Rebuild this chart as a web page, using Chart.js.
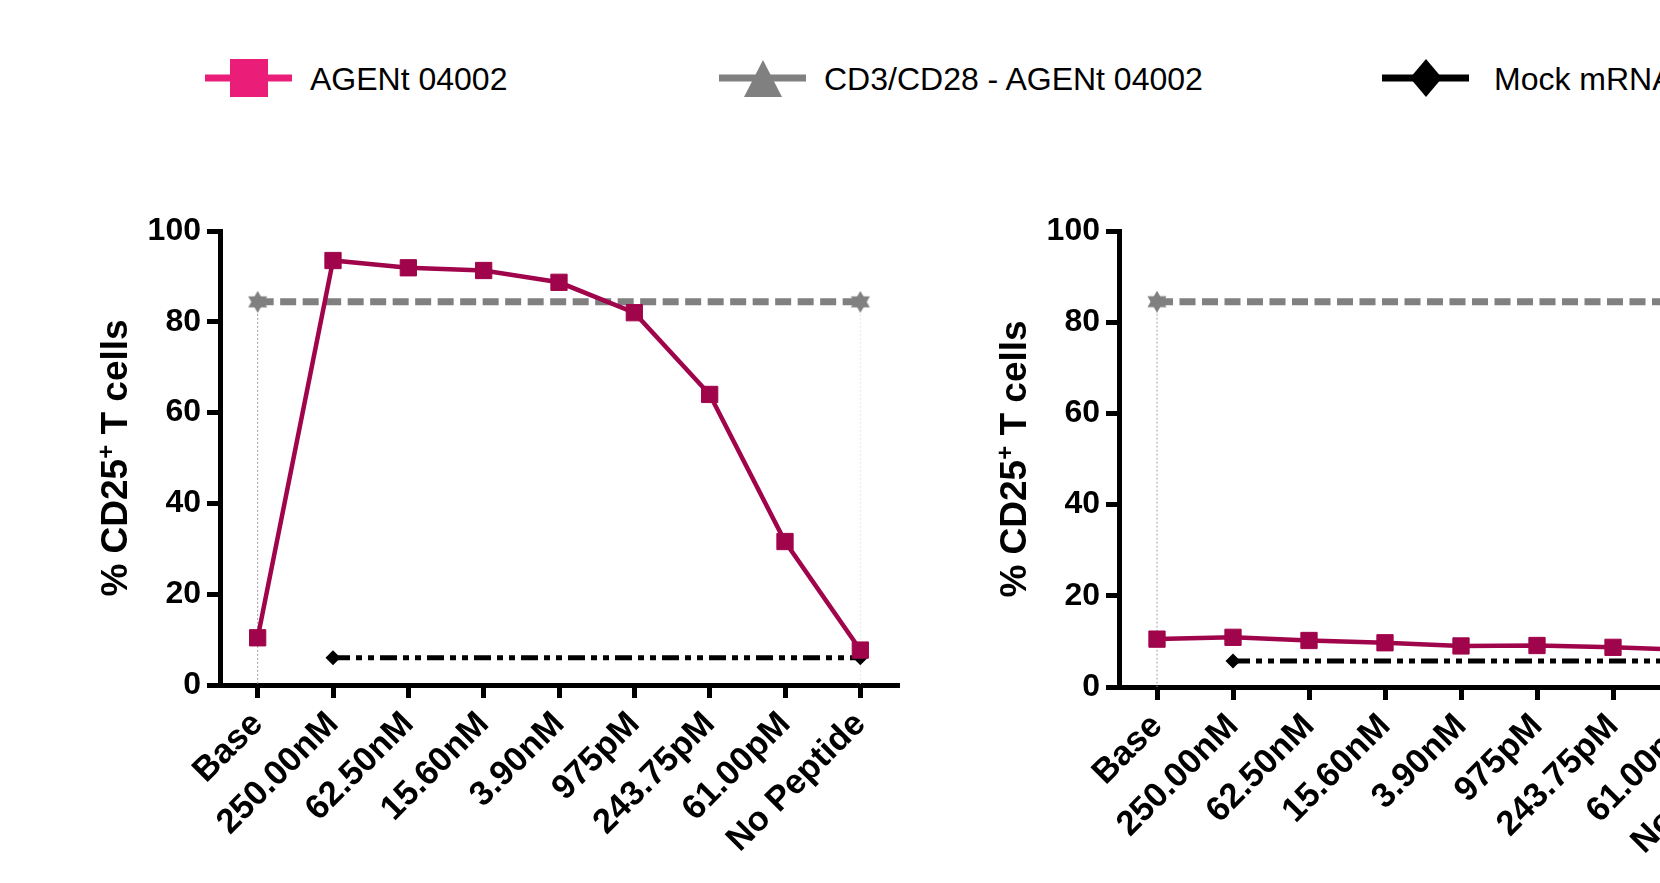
<!DOCTYPE html>
<html>
<head>
<meta charset="utf-8">
<script src="https://cdn.jsdelivr.net/npm/chart.js@4.4.1/dist/chart.umd.min.js"></script>
<style>
  html, body { margin: 0; padding: 0; background: #fff; overflow: hidden; }
  #wrap { position: relative; width: 1660px; height: 883px; overflow: hidden; }
  #wrap canvas { position: absolute; top: 0; }
  #legend { position: absolute; left: 0; top: 0; }
</style>
</head>
<body>
<div id="wrap">
  <svg id="legend" width="1660" height="130"></svg>
  <canvas id="left" width="900" height="883" style="left:0"></canvas>
  <canvas id="right" width="906" height="883" style="left:899px"></canvas>
</div>
<script>
// categories and values
const categories = ['Base', '250.00nM', '62.50nM', '15.60nM', '3.90nM', '975pM', '243.75pM', '61.00pM', 'No Peptide'];
const seriesNames = ['AGENt 04002', 'CD3/CD28 - AGENt 04002', 'Mock mRNA'];

const leftAgent = [10.4, 93.5, 91.9, 91.3, 88.7, 82.0, 64.0, 31.6, 7.7];
const leftCd3   = [84.4, null, null, null, null, null, null, null, 84.4];
const leftMock  = [null, 6.0, null, null, null, null, null, null, 6.0];

const rightAgent = [10.5, 10.9, 10.2, 9.7, 9.0, 9.1, 8.7, 8.1, 7.8];
const rightCd3   = [84.5, null, null, null, null, null, null, null, 84.5];
const rightMock  = [null, 5.7, null, null, null, null, null, null, 5.7];

const yMin = 0, yMax = 100, yStep = 20;

const FONT = '"Liberation Sans", Arial, Helvetica, sans-serif';
const lineColors = ['#a0044b', '#808080', '#000000'];
const legendColors = ['#ea1e79', '#808080', '#000000'];

// legend (svg, the figure is wider than the window)
const NS = 'http://www.w3.org/2000/svg';
const leg = document.getElementById('legend');
function el(tag, attrs) {
  const e = document.createElementNS(NS, tag);
  for (const k in attrs) e.setAttribute(k, attrs[k]);
  leg.appendChild(e);
  return e;
}
const legX = [205, 719, 1382];
const legTextX = [310, 824, 1494];
const legY = 78;
seriesNames.forEach((name, i) => {
  const x0 = legX[i], c = legendColors[i], mx = x0 + 44;
  el('rect', { x: x0, y: legY - 3.5, width: 87, height: 7, fill: c });
  if (i === 0) el('rect', { x: mx - 19, y: legY - 19, width: 38, height: 38, fill: c });
  if (i === 1) el('polygon', { points: `${mx},${legY - 18} ${mx + 19},${legY + 19} ${mx - 19},${legY + 19}`, fill: c });
  if (i === 2) el('polygon', { points: `${mx},${legY - 19} ${mx + 16},${legY} ${mx},${legY + 19} ${mx - 16},${legY}`, fill: c });
  const t = el('text', { x: legTextX[i], y: legY + 11.5, fill: '#000', 'font-family': FONT, 'font-size': 32 });
  t.textContent = name;
});

// six pointed star for the CD3/CD28 points
function starCanvas(size, color) {
  const c = document.createElement('canvas');
  c.width = c.height = size;
  const g = c.getContext('2d');
  g.fillStyle = color;
  const r = size / 2;
  for (const rot of [-Math.PI / 2, Math.PI / 2]) {
    g.beginPath();
    for (let i = 0; i < 3; i++) {
      const a = rot + i * 2 * Math.PI / 3;
      g.lineTo(r + r * Math.cos(a), r + r * Math.sin(a));
    }
    g.closePath();
    g.fill();
  }
  return c;
}
const star = starCanvas(22, lineColors[1]);

// thin dotted drop lines under the CD3/CD28 points
const dropLines = {
  id: 'dropLines',
  beforeDatasetsDraw(chart, args, opts) {
    const ds = chart.data.datasets[opts.dataset];
    const meta = chart.getDatasetMeta(opts.dataset);
    const y0 = chart.scales.y.getPixelForValue(yMin);
    const ctx = chart.ctx;
    let n = 0;
    meta.data.forEach((pt, i) => {
      if (ds.data[i] == null) return;
      ctx.save();
      ctx.strokeStyle = opts.colors[n++] || '#ccc';
      ctx.lineWidth = 1;
      ctx.setLineDash([2, 2]);
      ctx.beginPath();
      ctx.moveTo(pt.x, pt.y);
      ctx.lineTo(pt.x, y0);
      ctx.stroke();
      ctx.restore();
    });
  }
};

// y title with a superscript +
const yTitle = {
  id: 'yTitle',
  afterDraw(chart, args, opts) {
    const { ctx, chartArea } = chart;
    const big = `bold 37px ${FONT}`, small = `bold 24px ${FONT}`;
    const parts = [['% CD25', big, 0], ['+', small, -13], [' T cells', big, 0]];
    ctx.save();
    let w = 0;
    parts.forEach(p => { ctx.font = p[1]; w += ctx.measureText(p[0]).width; });
    ctx.translate(opts.x, (chartArea.top + chartArea.bottom) / 2);
    ctx.rotate(-Math.PI / 2);
    ctx.fillStyle = '#000';
    ctx.textBaseline = 'alphabetic';
    let x = -w / 2;
    parts.forEach(p => {
      ctx.font = p[1];
      ctx.fillText(p[0], x, p[2]);
      x += ctx.measureText(p[0]).width;
    });
    ctx.restore();
  }
};

function makeChart(id, agent, cd3, mock, plotBottom, drops) {
  const yFont = { family: FONT, size: 32, weight: 'bold' };
  const xFont = { family: FONT, size: 34.5, weight: 'bold' };
  return new Chart(document.getElementById(id), {
    type: 'line',
    data: {
      labels: categories,
      datasets: [
        {
          label: seriesNames[0], data: agent, order: 0,
          borderColor: lineColors[0], backgroundColor: lineColors[0], borderWidth: 4.5,
          pointStyle: 'rect', pointRadius: 11.5, pointBorderWidth: 1, tension: 0
        },
        {
          label: seriesNames[1], data: cd3, order: 1, spanGaps: true,
          borderColor: lineColors[1], backgroundColor: lineColors[1], borderWidth: 7,
          borderDash: [16, 6.5], pointStyle: star, pointRadius: 11
        },
        {
          label: seriesNames[2], data: mock, order: 2, spanGaps: true,
          borderColor: lineColors[2], backgroundColor: lineColors[2], borderWidth: 5,
          borderDash: [17, 6, 6, 6, 6, 6], pointStyle: 'rectRot', pointRadius: 7.5, pointBorderWidth: 0
        }
      ]
    },
    options: {
      responsive: false,
      animation: false,
      devicePixelRatio: 1,
      layout: { autoPadding: false, padding: { top: 231, right: 2, left: 0, bottom: 0 } },
      plugins: {
        legend: { display: false },
        tooltip: { enabled: false },
        dropLines: { dataset: 1, colors: drops },
        yTitle: { x: 127 }
      },
      scales: {
        x: {
          offset: true,
          grid: { drawOnChartArea: false, offset: false, color: '#000', lineWidth: 5, tickLength: 13 },
          border: { color: '#000', width: 5 },
          ticks: { font: xFont, color: '#000', minRotation: 45, maxRotation: 45, autoSkip: false, padding: 6 },
          afterFit(s) { s.height = 883 - plotBottom; s.paddingLeft = 0; s.paddingRight = 0; }
        },
        y: {
          min: yMin, max: yMax,
          grid: { drawOnChartArea: false, color: '#000', lineWidth: 5, tickLength: 13 },
          border: { color: '#000', width: 5 },
          ticks: { stepSize: yStep, font: yFont, color: '#000', padding: 6 },
          afterFit(s) { s.width = 220; s.paddingTop = 0; s.paddingBottom = 0; }
        }
      }
    },
    plugins: [dropLines, yTitle]
  });
}

makeChart('left', leftAgent, leftCd3, leftMock, 685, ['#9a9a9a', '#e6e6e6']);
makeChart('right', rightAgent, rightCd3, rightMock, 687, ['#a6a6a6', '#e6e6e6']);
</script>
</body>
</html>
